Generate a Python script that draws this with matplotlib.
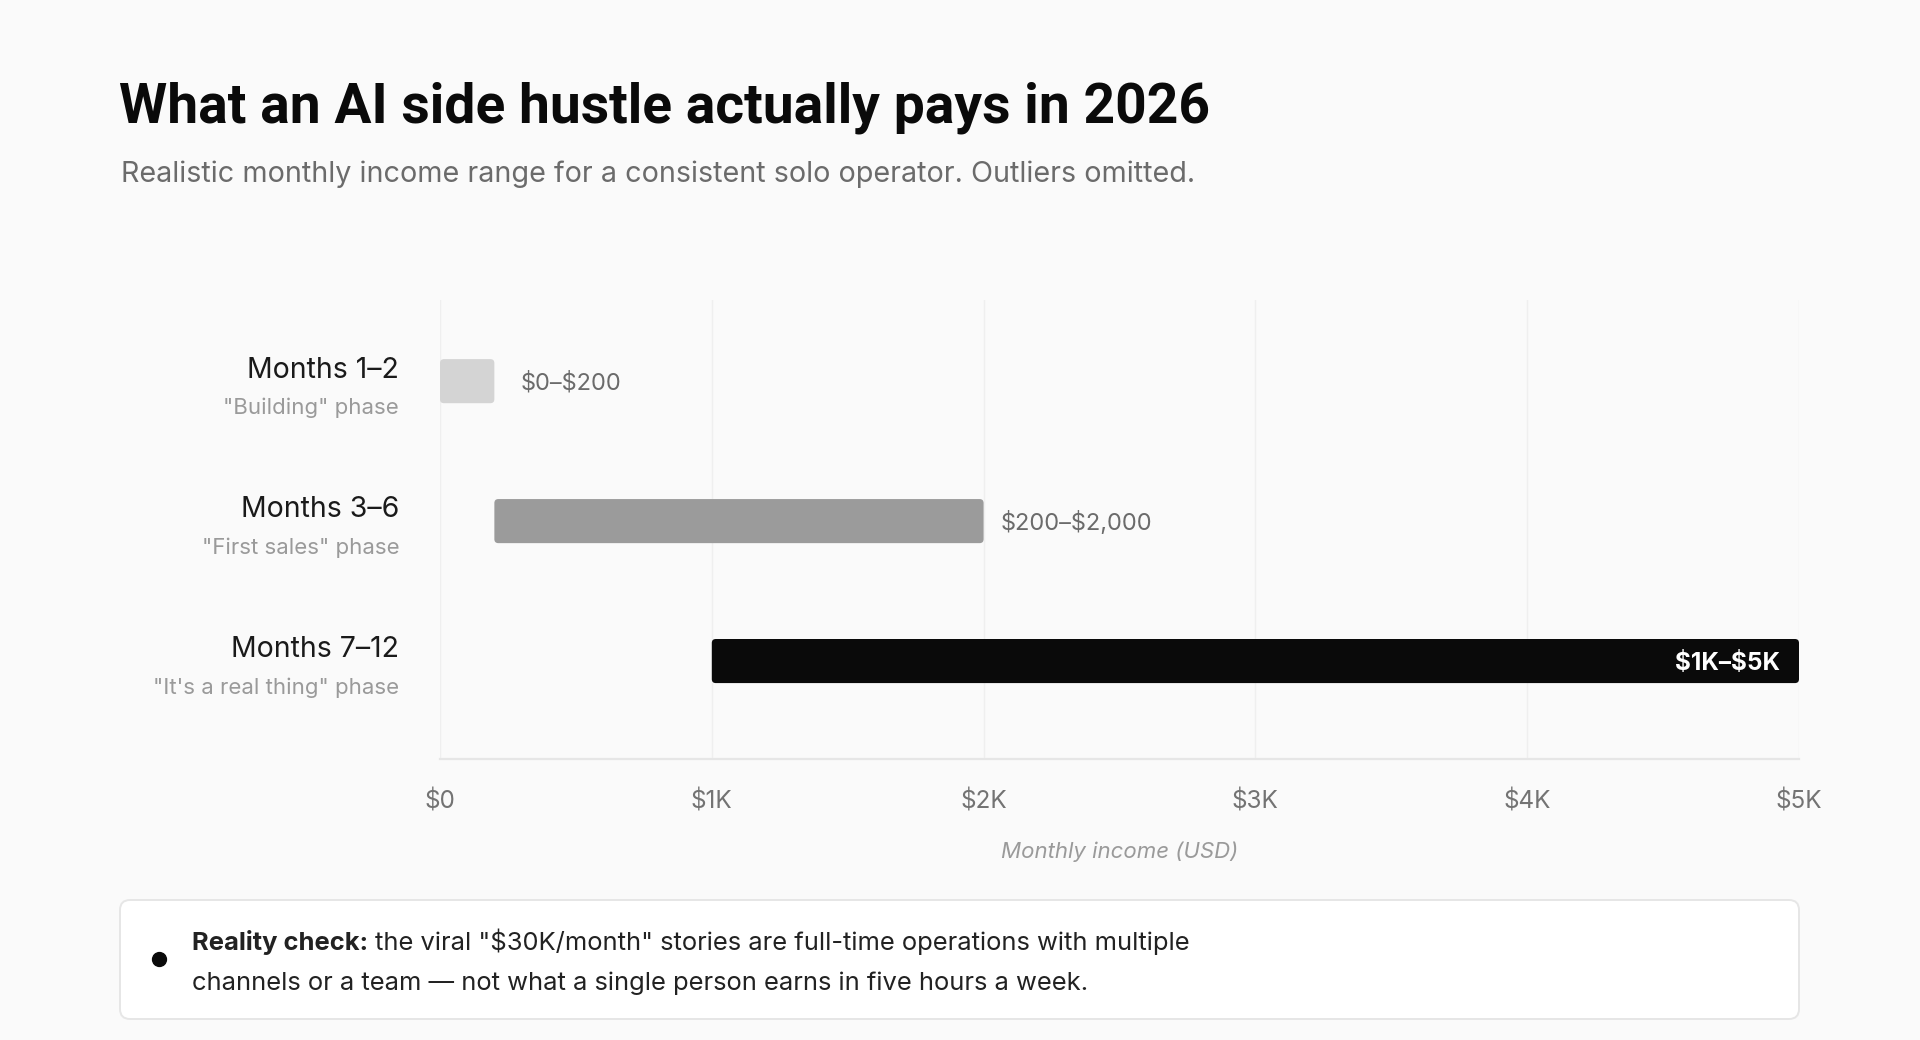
import matplotlib.pyplot as plt
from matplotlib.patches import FancyBboxPatch
from matplotlib.lines import Line2D

plt.rcParams['font.family'] = ['Inter', 'DejaVu Sans']

# data
phases = ['Months 1–2', 'Months 3–6', 'Months 7–12']
phase_notes = ['"Building" phase', '"First sales" phase', '"It\'s a real thing" phase']
low = [0, 200, 1000]
high = [200, 2000, 5000]
range_labels = ['$0–$200', '$200–$2,000', '$1K–$5K']
tick_values = [0, 1000, 2000, 3000, 4000, 5000]
tick_labels = ['$0', '$1K', '$2K', '$3K', '$4K', '$5K']

bar_colors = ['#d4d4d4', '#9b9b9b', '#0a0a0a']
label_gap = [19, 12]  # points right of bar end, for the outside labels

W, H = 1920, 1040
BG = '#fafafa'


def fx(x):
    return x / W


def fy(y):
    return 1 - y / H


fig = plt.figure(figsize=(W / 100, H / 100), dpi=100, facecolor=BG)

# title + subtitle
title = fig.text(fx(119), fy(122), 'What an AI side hustle actually pays in 2026',
                 fontsize=45, fontweight='bold', color='#0a0a0a', va='baseline',
                 family=['Roboto', 'Inter'])
fig.canvas.draw()
tw = title.get_window_extent().width
title.set_fontsize(45 * 1091 / tw)  # reference title is tightly tracked, fit to its width

fig.text(fx(121), fy(182), 'Realistic monthly income range for a consistent solo operator. Outliers omitted.',
         fontsize=20.7, color='#6b6b6b', va='baseline')

# plot area
ax = fig.add_axes([fx(440), fy(759), fx(1799) - fx(440), (759 - 300) / H])
ax.set_facecolor(BG)
ax.set_xlim(0, 5000)
ax.set_ylim(2.70, -0.58)

for v in tick_values:
    ax.axvline(v, color='#efefef', lw=1, zorder=0)

ypos = list(range(len(phases)))
bars = ax.barh(ypos, [h - l for l, h in zip(low, high)], left=low, height=0.315,
               color=bar_colors)

# swap square bars for slightly rounded ones
px_x = 1359 / 5000
px_y = 140
for b in bars:
    x, y = b.get_x(), b.get_y()
    w, h = b.get_width(), b.get_height()
    patch = FancyBboxPatch((x, y), w, h,
                           boxstyle='round,pad=0,rounding_size=%f' % (4 / px_x),
                           mutation_aspect=px_x / px_y,
                           facecolor=b.get_facecolor(), edgecolor='none', zorder=2)
    b.remove()
    ax.add_patch(patch)

for i in range(len(phases)):
    if i < len(phases) - 1:
        ax.annotate(range_labels[i], xy=(high[i], i), xytext=(label_gap[i], -1.5),
                    textcoords='offset points', va='center', ha='left',
                    fontsize=17, color='#6b6b6b', parse_math=False)
    else:
        ax.annotate(range_labels[i], xy=(high[i], i), xytext=(-14, -1.5),
                    textcoords='offset points', va='center', ha='right',
                    fontsize=17.5, color='white', fontweight='bold', parse_math=False)

    ax.annotate(phases[i], xy=(-0.03, i), xycoords=ax.get_yaxis_transform(),
                xytext=(0, 8), textcoords='offset points', va='center', ha='right',
                fontsize=20.5, color='#1a1a1a')
    ax.annotate(phase_notes[i], xy=(-0.03, i), xycoords=ax.get_yaxis_transform(),
                xytext=(0, -19), textcoords='offset points', va='center', ha='right',
                fontsize=16, color='#9a9a9a')

ax.set_yticks([])
ax.set_xticks(tick_values)
ax.set_xticklabels(tick_labels, fontsize=17.5, color='#737373', parse_math=False)
ax.tick_params(axis='x', length=0, pad=22)
for s in ['top', 'right', 'left']:
    ax.spines[s].set_visible(False)
ax.spines['bottom'].set_color('#e6e6e6')
ax.spines['bottom'].set_linewidth(1.6)

ax.text(0.5, -(852 - 759) / 459, 'Monthly income (USD)', transform=ax.transAxes,
        ha='center', va='center', fontsize=16, style='italic', color='#9a9a9a')

# reality check box
box = FancyBboxPatch((fx(120), fy(1019)), fx(1799) - fx(120), (1019 - 900) / H,
                     boxstyle='round,pad=0,rounding_size=%f' % fx(10),
                     mutation_aspect=W / H, transform=fig.transFigure,
                     facecolor='white', edgecolor='#e6e6e6', lw=1.4)
fig.add_artist(box)
fig.add_artist(Line2D([fx(159)], [fy(959)], marker='o', markersize=10,
                      color='#0a0a0a', transform=fig.transFigure))

bold = fig.text(fx(192), fy(950), 'Reality check:', fontsize=18.4, fontweight='bold',
                color='#222222', va='baseline')
fig.canvas.draw()
bb = bold.get_window_extent()
fig.text((bb.x1 + 7) / W, fy(950),
         'the viral "$30K/month" stories are full-time operations with multiple',
         fontsize=18.4, color='#222222', va='baseline', parse_math=False)
fig.text(fx(192), fy(990), 'channels or a team — not what a single person earns in five hours a week.',
         fontsize=18.4, color='#222222', va='baseline')

fig.savefig('out.png', dpi=100, facecolor=BG)
